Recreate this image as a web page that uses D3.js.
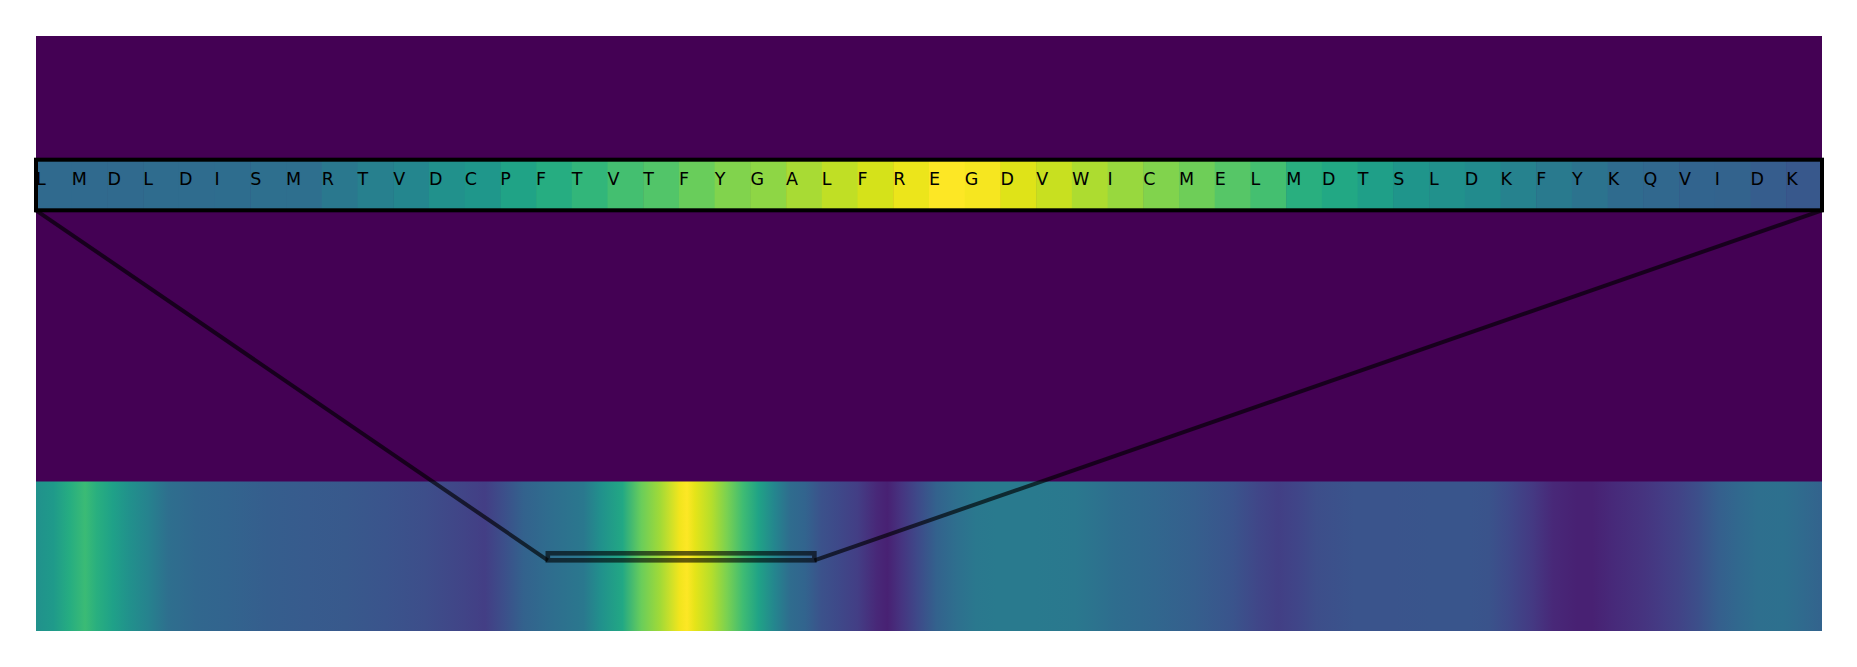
<!DOCTYPE html>
<html>
<head>
<meta charset="utf-8">
<script src="https://cdn.jsdelivr.net/npm/d3@7"></script>
<style>
  html, body { margin: 0; padding: 0; background: #fff; }
  svg { display: block; }
</style>
</head>
<body>
<svg id="chart" width="1857" height="667"></svg>
<script>
// ---------------- DATA ----------------
const fullLength = 335;           // residues in the full sequence
const windowStart = 96;           // first residue of the zoomed window
const windowSeq = "LMDLDISMRTVDCPFTVTFYGALFREGDVWICMELMDTSLDKFYKQVIDK".split("");
const windowAttention = [
  0.34, 0.34, 0.34, 0.35, 0.35, 0.355, 0.36, 0.36, 0.40, 0.43,
  0.46, 0.50, 0.53, 0.58, 0.62, 0.66, 0.70, 0.73, 0.77, 0.81,
  0.83, 0.87, 0.905, 0.935, 0.97, 1.00, 0.985, 0.95, 0.915, 0.875,
  0.845, 0.81, 0.78, 0.735, 0.70, 0.63, 0.60, 0.56, 0.52, 0.50,
  0.48, 0.445, 0.41, 0.38, 0.345, 0.335, 0.32, 0.315, 0.29, 0.27
];
// full-sequence attention profile, sampled along the residue axis
const fullPositions = [
  0, 3.3, 6.3, 9.2, 11.4, 14.4, 17.5, 21.1, 24.8, 30.0,
  35.9, 43.4, 50.9, 58.1, 65.6, 73.0, 80.4, 84.2, 87.8, 91.5,
  95.9, 102.7, 106.0, 110.0, 113.5, 117.1, 120.7, 122.1, 123.6, 126.7,
  129.6, 132.6, 135.5, 138.5, 141.5, 144.3, 147.3, 150.4, 154.1, 157.7,
  159.7, 162.3, 165.3, 168.9, 172.6, 176.3, 180.0, 187.4, 194.8, 198.6,
  202.3, 209.7, 217.2, 224.5, 229.4, 233.0, 236.6, 240.2, 247.3, 254.6,
  261.8, 269.0, 272.5, 276.1, 280.5, 284.6, 289.0, 291.9, 296.2, 301.2,
  304.8, 308.4, 311.8, 315.5, 319.2, 322.9, 327.8, 331.4, 335
];
const fullAttention = [
  0.50, 0.54, 0.62, 0.68, 0.63, 0.57, 0.50, 0.44, 0.36, 0.33,
  0.32, 0.295, 0.285, 0.275, 0.26, 0.235, 0.20, 0.18, 0.24, 0.31,
  0.35, 0.40, 0.50, 0.60, 0.77, 0.86, 0.98, 1.00, 0.96, 0.89,
  0.80, 0.69, 0.58, 0.46, 0.35, 0.32, 0.25, 0.22, 0.18, 0.11,
  0.09, 0.15, 0.22, 0.31, 0.36, 0.40, 0.41, 0.41, 0.40, 0.38,
  0.355, 0.33, 0.30, 0.26, 0.21, 0.185, 0.205, 0.235, 0.26, 0.26,
  0.265, 0.265, 0.255, 0.22, 0.17, 0.11, 0.09, 0.09, 0.12, 0.145,
  0.175, 0.20, 0.24, 0.30, 0.335, 0.36, 0.365, 0.34, 0.315
];

// ---------------- LAYOUT ----------------
const L = {
  left: 36, right: 1822, top: 36, bottom: 631,
  stripTop: 481.5,
  bandTop: 159.7, bandBottom: 210.3,
  baseline: 184.6,
  rectTop: 553.3, rectBottom: 560.3
};

const svg = d3.select("#chart");
const color = d3.interpolateViridis;

const xFull = d3.scaleLinear().domain([0, fullLength]).range([L.left, L.right]);
const xWin = d3.scaleLinear().domain([0, windowSeq.length]).range([L.left, L.right]);

// main axes background (zero attention)
svg.append("rect")
  .attr("x", L.left).attr("y", L.top)
  .attr("width", L.right - L.left).attr("height", L.bottom - L.top)
  .attr("fill", color(0));

// full-sequence strip as gradient
const defs = svg.append("defs");
const grad = defs.append("linearGradient")
  .attr("id", "fullGrad")
  .attr("gradientUnits", "userSpaceOnUse")
  .attr("x1", xFull(0)).attr("x2", xFull(fullLength))
  .attr("y1", 0).attr("y2", 0);
grad.selectAll("stop")
  .data(fullPositions.map((p, i) => ({ p, v: fullAttention[i] })))
  .join("stop")
  .attr("offset", d => (xFull(d.p) - xFull(0)) / (xFull(fullLength) - xFull(0)))
  .attr("stop-color", d => color(d.v));

svg.append("rect")
  .attr("x", xFull(0)).attr("y", L.stripTop)
  .attr("width", xFull(fullLength) - xFull(0))
  .attr("height", L.bottom - L.stripTop)
  .attr("fill", "url(#fullGrad)");

// highlight rectangle for the window
const wx0 = xFull(windowStart), wx1 = xFull(windowStart + windowSeq.length);
svg.append("rect")
  .attr("x", wx0).attr("y", L.rectTop)
  .attr("width", wx1 - wx0).attr("height", L.rectBottom - L.rectTop)
  .attr("fill", "none")
  .attr("stroke", "#000").attr("stroke-opacity", 0.62)
  .attr("stroke-width", 4.6);

// connector lines
const connectors = [
  [xWin(0), L.bandBottom, wx0, L.rectBottom],
  [xWin(windowSeq.length), L.bandBottom, wx1, L.rectBottom]
];
svg.selectAll("line.conn").data(connectors).join("line")
  .attr("class", "conn")
  .attr("x1", d => d[0]).attr("y1", d => d[1])
  .attr("x2", d => d[2]).attr("y2", d => d[3])
  .attr("stroke", "#000").attr("stroke-opacity", 0.65)
  .attr("stroke-width", 4);

// zoomed window band
const band = svg.append("g");
band.selectAll("rect.cell").data(windowAttention).join("rect")
  .attr("class", "cell")
  .attr("x", (d, i) => xWin(i))
  .attr("y", L.bandTop)
  .attr("width", (d, i) => xWin(i + 1) - xWin(i) + 0.5)
  .attr("height", L.bandBottom - L.bandTop)
  .attr("fill", d => color(d));

band.selectAll("text.aa").data(windowSeq).join("text")
  .attr("class", "aa")
  .attr("x", (d, i) => xWin(i))
  .attr("y", L.baseline)
  .attr("text-anchor", "start")
  .attr("font-family", "DejaVu Sans")
  .attr("font-size", 17.5)
  .attr("fill", "#000")
  .text(d => d);

band.append("rect")
  .attr("x", xWin(0)).attr("y", L.bandTop)
  .attr("width", xWin(windowSeq.length) - xWin(0))
  .attr("height", L.bandBottom - L.bandTop)
  .attr("fill", "none")
  .attr("stroke", "#000")
  .attr("stroke-width", 4);
</script>
</body>
</html>
